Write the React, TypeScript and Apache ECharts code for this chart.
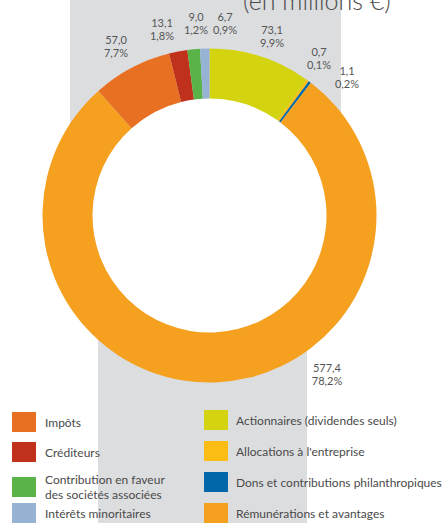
import React, { useEffect, useRef } from "react";
import * as echarts from "echarts";

const CATEGORIES = [
  "Actionnaires (dividendes seuls)",
  "Allocations à l'entreprise",
  "Dons et contributions philanthropiques",
  "Rémunérations et avantages",
  "Impôts",
  "Créditeurs",
  "Contribution en faveur des sociétés associées",
  "Intérêts minoritaires",
];
const VALUES = [73.1, 0.7, 1.1, 577.4, 57.0, 13.1, 9.0, 6.7];
const PERCENTS = [9.9, 0.1, 0.2, 78.2, 7.7, 1.8, 1.2, 0.9];
const COLORS = ["#d4d30f", "#fbbd13", "#0068a8", "#f5a01e", "#e87022", "#c0311c", "#5ab347", "#97b3d4"];
// label anchor points (centre of each two-line label)
const LABEL_ANCHORS = [
  [272, 36], [319, 58], [347, 77], [327, 374], [116, 46], [162, 29], [196, 23], [225, 23],
];
const LEGEND_LEFT = ["Impôts", "Créditeurs", "Contribution en faveur des sociétés associées"];
const LEGEND_LEFT_LAST = ["Intérêts minoritaires"];
const LEGEND_RIGHT = [
  "Actionnaires (dividendes seuls)",
  "Allocations à l'entreprise",
  "Dons et contributions philanthropiques",
  "Rémunérations et avantages",
];
const TITLE = "(en millions €)";

const fmt = (v: number) => v.toFixed(1).replace(".", ",");

export default function App() {
  const ref = useRef<HTMLDivElement>(null);
  useEffect(() => {
    if (!ref.current) return;
    const chart = echarts.init(ref.current, null, { renderer: "svg" });
    const legendText = {
      fontFamily: "Lato",
      fontSize: 12,
      color: "#4a4a4a",
      lineHeight: 15,
    };
    const legendFormatter = (name: string) =>
      name === "Contribution en faveur des sociétés associées"
        ? "Contribution en faveur\ndes sociétés associées"
        : name;
    const legendBase = {
      orient: "vertical" as const,
      icon: "rect",
      itemWidth: 24,
      itemHeight: 20,
      padding: 0,
      selectedMode: false,
      formatter: legendFormatter,
    };
    const center = [209.5, 215.5];
    chart.setOption({
      animation: false,
      color: COLORS,
      graphic: [
        { type: "rect", z: -10, shape: { x: 70, y: 0, width: 271, height: 220 }, style: { fill: "#dcdddf" } },
        { type: "rect", z: -10, shape: { x: 98, y: 220, width: 209, height: 303 }, style: { fill: "#dcdddf" } },
        {
          type: "text",
          x: 243,
          y: 0,
          style: {
            text: TITLE,
            fontFamily: "Lato",
            fontSize: 25,
            fontWeight: 300,
            fill: "#4a4a4a",
            textVerticalAlign: "middle",
          },
        },
      ],
      legend: [
        {
          ...legendBase,
          left: 12,
          top: 412,
          itemGap: 10,
          data: LEGEND_LEFT,
          textStyle: { ...legendText, padding: [0, 0, 0, 4] },
        },
        {
          ...legendBase,
          left: 12,
          top: 503,
          data: LEGEND_LEFT_LAST,
          textStyle: { ...legendText, padding: [0, 0, 0, 4] },
        },
        {
          ...legendBase,
          left: 204,
          top: 410,
          itemGap: 11,
          data: LEGEND_RIGHT,
          textStyle: { ...legendText, padding: [0, 0, 0, 3] },
        },
      ],
      series: [
        {
          type: "pie",
          name: "hole",
          center,
          radius: [0, 118],
          silent: true,
          label: { show: false },
          labelLine: { show: false },
          itemStyle: { color: "#ffffff" },
          data: [{ name: "__hole", value: 1, itemStyle: { color: "#ffffff" } }],
          z: 1,
        },
        {
          type: "pie",
          center,
          radius: [117, 167],
          startAngle: 90,
          clockwise: true,
          minAngle: 0.9,
          avoidLabelOverlap: false,
          silent: true,
          z: 2,
          label: {
            show: true,
            position: "outside",
            fontFamily: "Lato",
            fontSize: 11,
            lineHeight: 13,
            color: "#555555",
            align: "center",
            formatter: (p: any) => `${fmt(p.value)}\n${fmt(PERCENTS[p.dataIndex])}%`,
          },
          labelLine: { show: false },
          labelLayout: (p: any) => ({
            x: LABEL_ANCHORS[p.dataIndex][0],
            y: LABEL_ANCHORS[p.dataIndex][1],
            align: "center",
            verticalAlign: "middle",
          }),
          data: CATEGORIES.map((name, i) => ({ name, value: VALUES[i] })),
        },
      ],
    });
    return () => chart.dispose();
  }, []);
  return (
    <div
      ref={ref}
      style={{ position: "fixed", left: 0, top: 0, width: 448, height: 523, background: "#ffffff" }}
    />
  );
}
